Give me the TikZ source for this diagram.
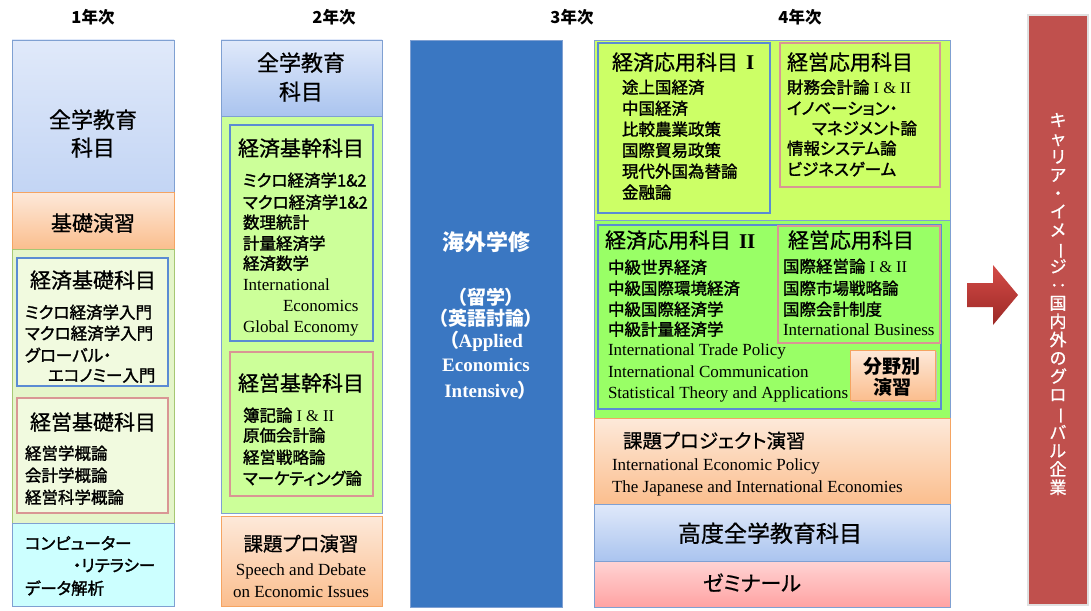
\documentclass[tikz,border=0pt]{standalone}
\usepackage{fontspec}
\usepackage{graphicx}
\setmainfont{Liberation Serif}
\newfontfamily\jp{Noto Sans CJK JP}[RawFeature=+palt]
\newfontfamily\jpi{Noto Sans CJK JP}[RawFeature=+palt, FakeBold=1.6]
\newfontfamily\jpt{Noto Sans CJK JP}[RawFeature=+palt, FakeBold=0.7]
\definecolor{frameblue}{HTML}{7FA0D2}
\definecolor{innerblue}{HTML}{5B8BD3}
\definecolor{innerpink}{HTML}{D99694}
\definecolor{blueA}{HTML}{E0E9FA}
\definecolor{blueB}{HTML}{AAC4EF}
\definecolor{blueC}{HTML}{C3D5F4}
\definecolor{orA}{HTML}{FDE9DA}
\definecolor{orB}{HTML}{FBBE8E}
\definecolor{orLine}{HTML}{F5A462}
\definecolor{greenOne}{HTML}{E5F5CA}
\definecolor{greenOneIn}{HTML}{F1FADF}
\definecolor{greenTwo}{HTML}{CCFF99}
\definecolor{greenFourA}{HTML}{CCFF66}
\definecolor{greenFourB}{HTML}{99FF66}
\definecolor{cyanBox}{HTML}{CCFFFF}
\definecolor{studyBlue}{HTML}{3A77C2}
\definecolor{pinkA}{HTML}{FFD3D3}
\definecolor{pinkB}{HTML}{FFA3A3}
\definecolor{careerRed}{HTML}{C0504D}
\definecolor{arrowA}{HTML}{D44B47}
\definecolor{arrowB}{HTML}{9C2926}
\definecolor{greenLine}{HTML}{A6C773}
\newcommand\en[1]{{\rmfamily #1}}
\newcommand\mybox[6]{\node[#6, anchor=north west, minimum width=#4pt, minimum height=#5pt] (#1) at (#2,#3) {};}
\newcommand\txtL[5]{\node[#4, anchor=base west] (#1) at (#2,#3) {#5};}
\newcommand\txtC[5]{\node[#4, anchor=base] (#1) at (#2,#3) {#5};}
\tikzset{
  every node/.style={inner sep=0pt, outer sep=0pt},
  frame/.style={draw=frameblue, line width=0.7pt},
  bluegrad/.style={frame, top color=blueA, bottom color=blueB},
  bluegradlight/.style={frame, top color=blueA, bottom color=blueC},
  orgrad/.style={draw=orLine, line width=0.7pt, top color=orA, bottom color=orB},
  pinkgrad/.style={frame, top color=pinkA, bottom color=pinkB},
  innerb/.style={draw=innerblue, line width=1.8pt},
  innerp/.style={draw=innerpink, line width=1.8pt},
  hdr/.style={font=\jp\bfseries\fontsize{16.5}{16.5}\selectfont},
  ttlA/.style={font=\jpt\fontsize{22}{22}\selectfont},
  ttlB/.style={font=\jpt\fontsize{21}{21}\selectfont},
  ttlC/.style={font=\jpt\fontsize{19.5}{19.5}\selectfont},
  itm/.style={font=\jpi\fontsize{16.5}{16.5}\selectfont},
  eng/.style={font=\rmfamily\fontsize{17}{17}\selectfont},
  wht/.style={text=white, font=\jp\bfseries\fontsize{19}{19}\selectfont},
  whteng/.style={text=white, font=\rmfamily\bfseries\fontsize{19}{19}\selectfont},
}
\begin{document}
\begin{tikzpicture}[x=1pt, y=-1pt]
\useasboundingbox (0,0) rectangle (1091,610);
\fill[white] (0,0) rectangle (1091,610);

% ---------- headers
\txtC{h1}{93}{24}{hdr}{1年次}
\txtC{h2}{334}{24}{hdr}{2年次}
\txtC{h3}{572}{24}{hdr}{3年次}
\txtC{h4}{800}{24}{hdr}{4年次}

% ---------- column 1
\mybox{c1top}{12}{40}{162}{152}{bluegradlight}
\mybox{c1kiso}{12}{192}{162}{57}{orgrad}
\mybox{c1green}{12}{249}{162}{274}{draw=greenLine, line width=0.7pt, fill=greenOne}
\mybox{c1econ}{17}{258}{151}{128}{innerb, fill=greenOneIn}
\mybox{c1mgmt}{17}{398}{151}{115}{innerp, fill=greenOneIn}
\mybox{c1comp}{12}{523}{162}{83}{frame, fill=cyanBox}

\txtC{t1a}{93}{128}{ttlA}{全学教育}
\txtC{t1b}{93}{156}{ttlA}{科目}
\txtC{t1c}{93}{231}{ttlB}{基礎演習}
\txtC{t1d}{93}{288}{ttlB}{経済基礎科目}
\txtL{t1e}{25}{318.5}{itm}{ミクロ経済学入門}
\txtL{t1f}{25}{339.5}{itm}{マクロ経済学入門}
\txtL{t1g}{25}{361.5}{itm}{グローバル・}
\txtL{t1h}{48}{381.5}{itm}{エコノミー入門}
\txtC{t1i}{93}{430}{ttlB}{経営基礎科目}
\txtL{t1j}{25}{459.5}{itm}{経営学概論}
\txtL{t1k}{25}{481.5}{itm}{会計学概論}
\txtL{t1l}{25}{503.5}{itm}{経営科学概論}
\txtL{t1m}{25}{549.5}{itm}{コンピューター}
\txtL{t1n}{73}{571.5}{itm}{・リテラシー}
\txtL{t1o}{25}{594.5}{itm}{データ解析}

% ---------- column 2
\mybox{c2top}{221}{40}{161}{76}{bluegrad}
\mybox{c2green}{221}{116}{161}{397}{frame, fill=greenTwo}
\mybox{c2econ}{230}{125}{143}{216}{innerb, fill=greenTwo}
\mybox{c2mgmt}{230}{352}{143}{144}{innerp, fill=greenTwo}
\mybox{c2kadai}{221}{516}{161}{90}{orgrad}

\txtC{t2a}{301}{71}{ttlA}{全学教育}
\txtC{t2b}{301}{100}{ttlA}{科目}
\txtC{t2c}{301}{156}{ttlB}{経済基幹科目}
\txtL{t2d}{243}{186.5}{itm}{ミクロ経済学1\&2}
\txtL{t2e}{243}{208.5}{itm}{マクロ経済学1\&2}
\txtL{t2f}{243}{228.5}{itm}{数理統計}
\txtL{t2g}{243}{249.5}{itm}{計量経済学}
\txtL{t2h}{243}{269.5}{itm}{経済数学}
\txtL{t2i}{243}{290}{eng}{International}
\txtL{t2j}{283}{311}{eng}{Economics}
\txtL{t2k}{243}{332}{eng}{Global Economy}
\txtC{t2l}{301}{391}{ttlB}{経営基幹科目}
\txtL{t2m}{243}{421.5}{itm}{簿記論\en{\ I \& II}}
\txtL{t2n}{243}{441.5}{itm}{原価会計論}
\txtL{t2o}{243}{463.5}{itm}{経営戦略論}
\txtL{t2p}{243}{484.5}{itm}{マーケティング論}
\txtC{t2q}{301}{551}{ttlC}{課題プロ演習}
\txtC{t2r}{301}{575}{eng}{Speech and Debate}
\txtC{t2s}{301}{597}{eng}{on Economic Issues}

% ---------- column 3
\mybox{c3}{410}{40}{152}{567}{draw=frameblue, line width=0.7pt, fill=studyBlue}
\txtC{t3a}{486}{250}{wht, font=\jp\bfseries\fontsize{22}{22}\selectfont}{海外学修}
\txtC{t3b}{486}{304}{wht}{（留学）}
\txtC{t3c}{486}{325}{wht}{（英語討論）}
\txtC{t3d}{486}{347}{whteng}{{\jp （}Applied}
\txtC{t3e}{486}{371}{whteng}{Economics}
\txtC{t3f}{486}{397}{whteng}{Intensive{\jp ）}}

% ---------- column 4
\mybox{c4a}{594}{40}{356}{180}{frame, fill=greenFourA}
\mybox{c4econ1}{598}{43}{172}{170}{innerb, fill=greenFourA}
\mybox{c4mgmt1}{780}{43}{160}{144}{innerp, fill=greenFourA}
\mybox{c4b}{594}{220}{356}{198}{frame, fill=greenFourB}
\mybox{c4econ2}{598}{225}{343}{184}{innerb, fill=greenFourB}
\mybox{c4mgmt2}{778}{226}{162}{117}{innerp, fill=greenFourB}
\mybox{c4kadai}{594}{418}{356}{86}{orgrad}
\mybox{c4kodo}{594}{504}{356}{57}{bluegrad}
\mybox{c4zemi}{594}{561}{356}{46}{pinkgrad}

\txtL{t4a}{612}{70}{ttlB}{経済応用科目\hspace{8pt}\en{\bfseries I}}
\txtL{t4b}{622}{93.5}{itm}{途上国経済}
\txtL{t4c}{622}{114.5}{itm}{中国経済}
\txtL{t4d}{622}{135.5}{itm}{比較農業政策}
\txtL{t4e}{622}{156.5}{itm}{国際貿易政策}
\txtL{t4f}{622}{177.5}{itm}{現代外国為替論}
\txtL{t4g}{622}{198.5}{itm}{金融論}

\txtL{t4h}{787}{70}{ttlB}{経営応用科目}
\txtL{t4i}{787}{93.5}{itm}{財務会計論\en{\ I \& II}}
\txtL{t4j}{787}{114.5}{itm}{イノベーション・}
\txtL{t4k}{812}{134.5}{itm}{マネジメント論}
\txtL{t4l}{787}{154.5}{itm}{情報システム論}
\txtL{t4m}{787}{175.5}{itm}{ビジネスゲーム}

\txtL{t4n}{605}{248}{ttlB}{経済応用科目\hspace{8pt}\en{\bfseries II}}
\txtL{t4o}{608}{273.5}{itm}{中級世界経済}
\txtL{t4p}{608}{294.5}{itm}{中級国際環境経済}
\txtL{t4q}{608}{315.5}{itm}{中級国際経済学}
\txtL{t4r}{608}{335.5}{itm}{中級計量経済学}
\txtL{t4s}{608}{355}{eng}{International Trade Policy}
\txtL{t4t}{608}{377}{eng}{International Communication}
\txtL{t4u}{608}{398}{eng}{Statistical Theory and Applications}

\txtL{t4v}{788}{248}{ttlB}{経営応用科目}
\txtL{t4w}{783}{272.5}{itm}{国際経営論\en{\ I \& II}}
\txtL{t4x}{783}{294.5}{itm}{国際市場戦略論}
\txtL{t4y}{783}{315.5}{itm}{国際会計制度}
\txtL{t4z}{783}{335}{eng}{International Business}

\fill[black!25] (852,352) rectangle (937,402);
\mybox{c4bunya}{850}{350}{85}{50}{orgrad}
\txtC{t4bunyaA}{892}{373}{font=\jp\bfseries\fontsize{19}{19}\selectfont}{分野別}
\txtC{t4bunyaB}{892}{394}{font=\jp\bfseries\fontsize{19}{19}\selectfont}{演習}

\txtL{t4kadaiA}{623}{448}{ttlC}{課題プロジェクト演習}
\txtL{t4kadaiB}{612}{470}{eng}{International Economic Policy}
\txtL{t4kadaiC}{612}{492}{eng}{The Japanese and International Economies}
\txtC{t4kodo}{770}{542}{font=\jpt\fontsize{23}{23}\selectfont}{高度全学教育科目}
\txtC{t4zemi}{752}{591}{font=\jpt\fontsize{21}{21}\selectfont}{ゼミナール}

% ---------- arrow and career box
\mybox{career}{1028}{15}{60}{590}{draw=black!12, line width=1.2pt, fill=careerRed}
\coordinate (arrTail) at (967,295);
\shade[top color=arrowA, bottom color=arrowB]
  (arrTail) ++(0,-12) -- (993,283) -- (993,265) -- (1018,295) -- (993,325) -- (993,307) -- (967,307) -- cycle;
\node[text=white, align=center, font=\jpt\fontsize{17}{18.3}\selectfont] (careerText) at (1058,304)
  {キ\\ャ\\リ\\ア\\・\\イ\\メ\\\rotatebox[origin=c]{-90}{ー}\\ジ\\\rotatebox[origin=c]{-90}{：}\\国\\内\\外\\の\\グ\\ロ\\\rotatebox[origin=c]{-90}{ー}\\バ\\ル\\企\\業};
\end{tikzpicture}
\end{document}
